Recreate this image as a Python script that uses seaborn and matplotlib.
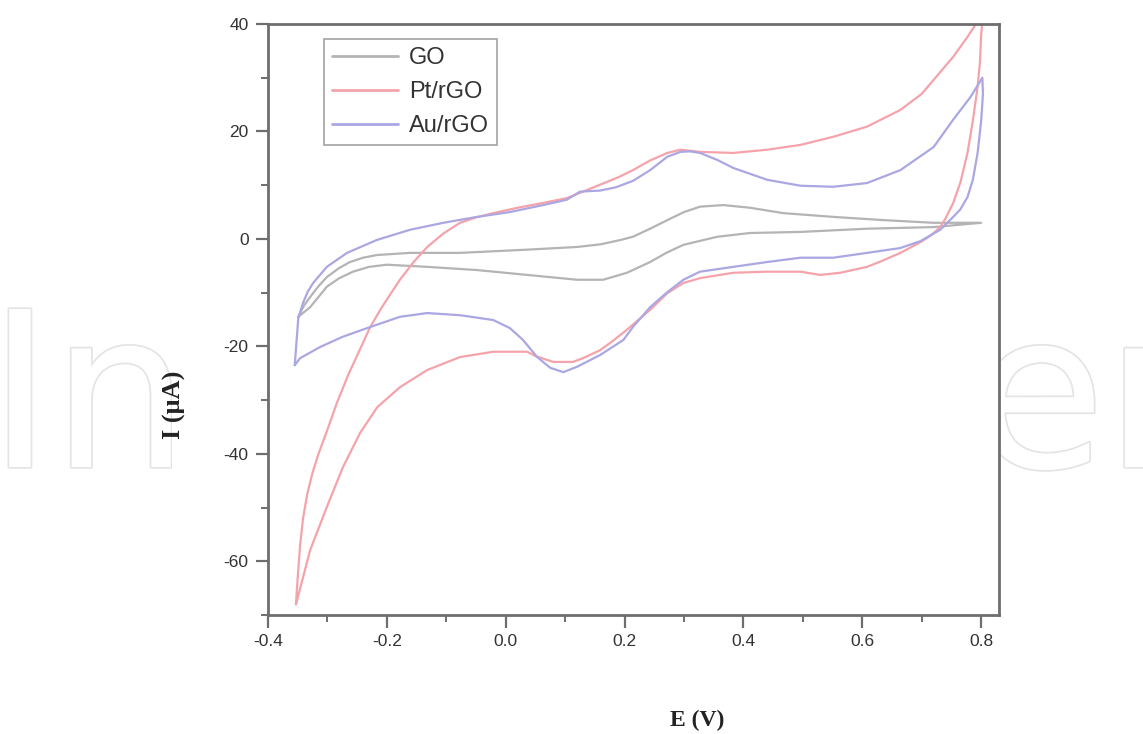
import numpy as np
import pandas as pd
import matplotlib
matplotlib.use("Agg")
import matplotlib.pyplot as plt
import matplotlib.patheffects as pe
from matplotlib.patches import Rectangle
from matplotlib.ticker import MultipleLocator
import seaborn as sns

# ---------------- data ----------------
series_names = ["GO", "Pt/rGO", "Au/rGO"]
series_colors = ["#b4b4b4", "#f5a3ab", "#aaa7e2"]

# GO loop
go_E = [-0.349, -0.340, -0.329, -0.315, -0.301, -0.280, -0.262, -0.240, -0.217, -0.161,
        -0.077, 0.036, 0.120, 0.160, 0.193, 0.214, 0.243, 0.272, 0.300, 0.327, 0.366,
        0.411, 0.467, 0.551, 0.635, 0.720, 0.800,
        0.720, 0.608, 0.496, 0.411, 0.356, 0.299, 0.270, 0.243, 0.204, 0.164, 0.120,
        0.036, -0.048, -0.132, -0.200, -0.230, -0.257, -0.280, -0.301, -0.329, -0.349]
go_I = [-14.5, -12.5, -10.8, -8.8, -7.1, -5.4, -4.3, -3.5, -3.0, -2.6,
        -2.6, -2.0, -1.5, -1.0, -0.2, 0.4, 1.9, 3.5, 5.0, 6.0, 6.3,
        5.8, 4.8, 4.1, 3.5, 3.0, 3.0,
        2.2, 1.9, 1.3, 1.1, 0.4, -1.1, -2.6, -4.3, -6.3, -7.6, -7.6,
        -6.7, -5.8, -5.2, -4.8, -5.2, -6.1, -7.3, -8.9, -12.7, -14.5]

# Pt/rGO loop
pt_E = [-0.353, -0.350, -0.346, -0.341, -0.334, -0.325, -0.315, -0.300, -0.284, -0.265,
        -0.245, -0.228, -0.210, -0.190, -0.178, -0.155, -0.132, -0.105, -0.077, -0.050,
        -0.021, 0.020, 0.063, 0.103, 0.130, 0.159, 0.190, 0.214, 0.243, 0.272,
        0.294, 0.327, 0.383, 0.440, 0.496, 0.551, 0.608, 0.664, 0.700, 0.720,
        0.753, 0.777, 0.803,
        0.800, 0.798, 0.794, 0.786, 0.777, 0.765, 0.753, 0.740, 0.731, 0.715,
        0.698, 0.664, 0.635, 0.608, 0.563, 0.529, 0.496, 0.440, 0.383, 0.327,
        0.299, 0.272, 0.243, 0.204, 0.180, 0.159, 0.130, 0.113, 0.080, 0.050,
        0.036, -0.021, -0.077, -0.132, -0.178, -0.216, -0.245, -0.274, -0.301, -0.329,
        -0.351, -0.353]
pt_I = [-68.0, -63.0, -57.0, -52.0, -47.5, -43.5, -40.0, -35.5, -30.5, -25.3,
        -20.5, -16.4, -13.0, -9.6, -7.6, -4.3, -1.5, 1.0, 3.0, 4.0,
        4.8, 5.8, 6.7, 7.6, 8.8, 10.1, 11.5, 12.8, 14.6, 16.0,
        16.6, 16.2, 16.0, 16.6, 17.5, 19.0, 20.9, 24.0, 27.0, 29.6,
        33.9, 37.6, 42.0,
        38.0, 33.0, 28.3, 22.0, 16.0, 10.5, 6.7, 3.8, 2.2, 0.6,
        -0.6, -2.6, -4.0, -5.2, -6.3, -6.7, -6.1, -6.1, -6.3, -7.3,
        -8.2, -10.1, -13.2, -16.9, -19.0, -20.7, -22.2, -22.9, -22.9, -21.8,
        -21.0, -21.0, -22.0, -24.4, -27.6, -31.3, -36.1, -42.5, -49.9, -57.9,
        -67.2, -68.0]

# Au/rGO loop
au_E = [-0.355, -0.349, -0.341, -0.333, -0.324, -0.301, -0.267, -0.217, -0.161, -0.105,
        -0.048, 0.007, 0.063, 0.103, 0.125, 0.159, 0.185, 0.214, 0.243, 0.272,
        0.294, 0.310, 0.327, 0.356, 0.383, 0.440, 0.496, 0.551, 0.608, 0.664,
        0.720, 0.753, 0.782, 0.802,
        0.803, 0.800, 0.794, 0.786, 0.777, 0.765, 0.753, 0.731, 0.698, 0.664,
        0.608, 0.551, 0.496, 0.440, 0.383, 0.327, 0.299, 0.272, 0.243, 0.214,
        0.198, 0.159, 0.120, 0.097, 0.075, 0.053, 0.029, 0.007, -0.021, -0.077,
        -0.132, -0.178, -0.228, -0.274, -0.312, -0.346, -0.355]
au_I = [-23.5, -14.7, -11.9, -9.8, -8.2, -5.2, -2.6, -0.2, 1.7, 3.0,
        4.1, 5.0, 6.3, 7.3, 8.8, 9.0, 9.6, 10.8, 12.8, 15.3,
        16.2, 16.3, 16.0, 14.7, 13.2, 11.0, 9.9, 9.7, 10.4, 12.8,
        17.1, 22.2, 26.4, 30.0,
        27.0, 22.0, 16.0, 11.0, 7.8, 5.5, 4.1, 1.7, -0.4, -1.7,
        -2.6, -3.5, -3.5, -4.3, -5.2, -6.1, -7.6, -9.9, -12.7, -16.4,
        -18.8, -21.6, -23.8, -24.8, -24.0, -22.0, -18.8, -16.6, -15.1, -14.2,
        -13.8, -14.5, -16.4, -18.2, -20.1, -22.2, -23.5]

x_ticks = [-0.4, -0.2, 0.0, 0.2, 0.4, 0.6, 0.8]
y_ticks = [-60, -40, -20, 0, 20, 40]

frames = []
for name, E, I in zip(series_names, [go_E, pt_E, au_E], [go_I, pt_I, au_I]):
    frames.append(pd.DataFrame({"E": E, "I": I, "sample": name}))
df = pd.concat(frames, ignore_index=True)

# ---------------- plotting ----------------
sns.set_theme(style="ticks")
plt.rcParams["font.family"] = ["Liberation Sans", "DejaVu Sans"]

W, H = 1143, 734
fig = plt.figure(figsize=(W / 100, H / 100), dpi=100)
fig.patch.set_facecolor("white")
ax = fig.add_axes([268 / W, 1 - 615 / H, (999 - 268) / W, (615 - 24) / H])
ax.set_facecolor("white")

sns.lineplot(data=df, x="E", y="I", hue="sample", hue_order=series_names,
             palette=dict(zip(series_names, series_colors)), sort=False,
             estimator=None, units="sample", linewidth=1.6, ax=ax, legend=True)

ax.set_xlim(-0.4, 0.83)
ax.set_ylim(-70, 40)
ax.set_xticks(x_ticks)
ax.set_xticklabels([f"{v:.1f}" for v in x_ticks])
ax.set_yticks(y_ticks)
ax.set_yticklabels([str(v) for v in y_ticks])
ax.xaxis.set_minor_locator(MultipleLocator(0.1))
ax.yaxis.set_minor_locator(MultipleLocator(10))

spine_col = "#6e6e6e"
for s in ax.spines.values():
    s.set_visible(True)
    s.set_color(spine_col)
    s.set_linewidth(2.0)
ax.tick_params(which="major", direction="out", length=9, width=1.6, color=spine_col,
               labelsize=12.5, labelcolor="#333333", pad=5)
ax.tick_params(which="minor", direction="out", length=5, width=1.4, color=spine_col)
ax.tick_params(top=False, right=False, which="both")

ax.set_xlabel("E (V)", fontsize=17, fontweight="bold", family="Liberation Serif", color="#222222")
ax.set_ylabel("I (μA)", fontsize=19, fontweight="bold", family="Liberation Serif", color="#222222")
ax.xaxis.set_label_coords((697 - 268) / 731, (615 - 720) / 591)
ax.xaxis.label.set_va("center")
ax.yaxis.set_label_coords((174 - 268) / 731, (615 - 405) / 591)
ax.yaxis.label.set_va("center")

handles, labels = ax.get_legend_handles_labels()
leg = ax.legend(handles, labels, loc="upper left", bbox_to_anchor=((324 - 268) / 731, (615 - 39) / 591),
                borderaxespad=0, frameon=True, fancybox=False, fontsize=17,
                handlelength=2.8, handletextpad=0.45, labelspacing=0.5, borderpad=0.35)
leg.get_frame().set_edgecolor("#8a8a8a")
leg.get_frame().set_linewidth(1.2)
for line in leg.get_lines():
    line.set_linewidth(2.0)
for t in leg.get_texts():
    t.set_color("#333333")

# watermark behind the chart picture
fig.text(-12 / W, 1 - 467 / H, "IntechOpen", fontsize=156, color="white",
         family="DejaVu Sans", ha="left", va="baseline", zorder=-5,
         path_effects=[pe.withStroke(linewidth=2.5, foreground="#e4e4e4")])
fig.add_artist(Rectangle((172 / W, 1 - 500 / H), (1001 - 172) / W, 220 / H,
                         transform=fig.transFigure, facecolor="white",
                         edgecolor="none", zorder=-4))

fig.savefig("out.png", dpi=100, facecolor="white")
